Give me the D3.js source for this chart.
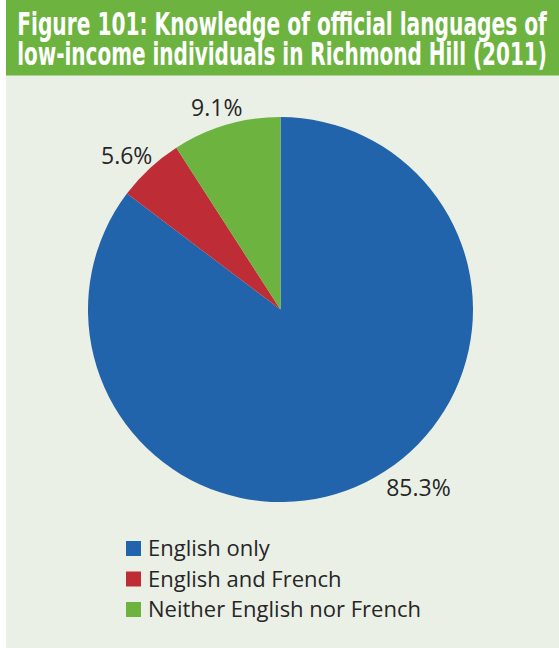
<!DOCTYPE html>
<html>
<head>
<meta charset="utf-8">
<script src="https://cdn.jsdelivr.net/npm/d3@7"></script>
<style>
  html, body { margin: 0; padding: 0; background: #ffffff; }
  svg { display: block; }
</style>
</head>
<body>
<svg id="chart" width="559" height="648"></svg>
<script>
// Knowledge of official languages, low-income individuals, Richmond Hill (2011)
const titleLines = [
  "Figure 101: Knowledge of official languages of",
  "low-income individuals in Richmond Hill (2011)"
];
const categories = ["English only", "English and French", "Neither English nor French"];
const shares = [85.3, 5.6, 9.1];
const colors = ["#2164ac", "#be2d36", "#6cb33f"];

const W = 559, H = 648;
const svg = d3.select("#chart");

// frame: white margin, light panel and green title band
svg.append("rect").attr("x", 0).attr("y", 0).attr("width", W).attr("height", H).attr("fill", "#ffffff");
svg.append("rect").attr("x", 6).attr("y", 0).attr("width", W - 6).attr("height", H).attr("fill", "#ebf0e7");
svg.append("rect").attr("x", 6).attr("y", 0).attr("width", W - 6).attr("height", 75.5).attr("fill", "#6db33f");

// title: bold condensed face, squeezed horizontally to fit the band
const titleFont = "'Liberation Sans Narrow', 'DejaVu Sans Condensed', 'Roboto', sans-serif";
const titleWidth = 530, titleCenter = 282;
svg.append("g").selectAll("text")
  .data(titleLines)
  .join("text")
  .attr("x", 0)
  .attr("y", 0)
  .attr("text-anchor", "middle")
  .attr("font-family", titleFont)
  .attr("font-weight", "bold")
  .attr("font-size", 32.5)
  .attr("fill", "#ffffff")
  .text(d => d)
  .each(function (d, i) {
    const natural = this.getComputedTextLength();
    const sx = Math.min(1, titleWidth / natural);
    d3.select(this).attr("transform",
      `translate(${titleCenter},${34.5 + i * 30.5}) scale(${sx},1)`);
  });

// pie
const cx = 280.5, cy = 309.6, R = 192.5;
const pie = d3.pie().sort(null).value(d => d)(shares);
const arc = d3.arc().innerRadius(0).outerRadius(R);
const gPie = svg.append("g").attr("transform", `translate(${cx},${cy})`);
gPie.selectAll("path")
  .data(pie)
  .join("path")
  .attr("d", arc)
  .attr("fill", (d, i) => colors[i]);

// outside-end data labels, kept inside the plot area
const labelFont = "'Open Sans', 'DejaVu Sans', sans-serif";
const labelSize = 23;
const fmt = v => v.toFixed(1) + "%";
const gap = 8, boxH = 20, bottomLimit = cy + R - 4.5;
const gLab = svg.append("g");
pie.forEach(p => {
  const t = gLab.append("text")
    .attr("font-family", labelFont)
    .attr("font-size", labelSize)
    .attr("fill", "#262626")
    .attr("text-anchor", "middle")
    .text(fmt(p.data));
  const w = t.node().getComputedTextLength();
  const a = (p.startAngle + p.endAngle) / 2;
  const s = Math.sin(a), c = -Math.cos(a);
  let x = cx + (R + gap) * s + s * w / 2;
  let y = cy + (R + gap) * c + c * boxH / 2;
  if (y + boxH / 2 > bottomLimit) {
    // slide along the bottom edge until the box clears the pie
    y = bottomLimit - boxH / 2;
    const dy = (y - boxH / 2) - cy;
    const rr = R + 6;
    const dx = Math.sqrt(Math.max(0, rr * rr - dy * dy));
    x = cx + Math.sign(s) * (dx + w / 2);
  }
  t.attr("x", x).attr("y", y + 8.5);
});

// legend
const legendFont = "'Open Sans', 'DejaVu Sans', sans-serif";
const gLeg = svg.append("g").attr("transform", "translate(126,541)");
const rows = gLeg.selectAll("g")
  .data(categories)
  .join("g")
  .attr("transform", (d, i) => `translate(0,${i * 30.5})`);
rows.append("rect")
  .attr("x", 0).attr("y", 0)
  .attr("width", 15).attr("height", 15)
  .attr("fill", (d, i) => colors[i]);
rows.append("text")
  .attr("x", 22).attr("y", 15)
  .attr("font-family", legendFont)
  .attr("font-size", 22)
  .attr("fill", "#262626")
  .text(d => d);
</script>
</body>
</html>
